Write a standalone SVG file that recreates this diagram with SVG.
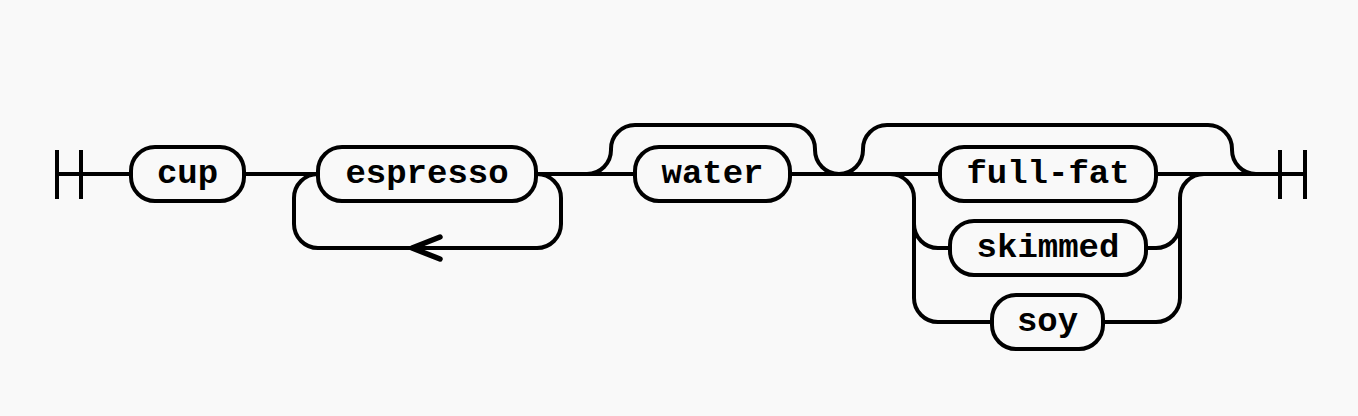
<svg xmlns="http://www.w3.org/2000/svg" width="1358" height="416" viewBox="0 0 1358 416">
<style>
.bg{fill:#f9f9f9}
.ln{fill:none;stroke:#000;stroke-width:4;stroke-linecap:butt;stroke-linejoin:round}
.box{fill:#f9f9f9;stroke:#000;stroke-width:4}
.lbl{font-family:"Liberation Mono","DejaVu Sans Mono",monospace;font-weight:bold;font-size:34px;fill:#000;text-anchor:middle}
</style>
<rect class="bg" x="0" y="0" width="1358" height="416"/>
<g id="connectors" class="ln">
  <path d="M57,150 L57,199 M81,150 L81,199"/>
  <path d="M57,174 L131,174"/>
  <path d="M244,174 L318,174"/>
  <path d="M318,174 A24,24 0 0 0 294,198 L294,224 A24,24 0 0 0 318,248 L537,248 A24,24 0 0 0 561,224 L561,198 A24,24 0 0 0 537,174"/>
  <path d="M440,237 L412,248 L440,259" stroke-width="5.5" stroke-linecap="round"/>
  <path d="M536,174 L635,174"/>
  <path d="M587,174 A24,24 0 0 0 611,150 L611,149 A24,24 0 0 1 635,125 L791,125 A24,24 0 0 1 815,149 L815,150 A24,24 0 0 0 839,174"/>
  <path d="M790,174 L940,174"/>
  <path d="M839,174 A24,24 0 0 0 863,150 L863,149 A24,24 0 0 1 887,125 L1208,125 A24,24 0 0 1 1232,149 L1232,150 A24,24 0 0 0 1256,174"/>
  <path d="M890,174 A24,24 0 0 1 914,198 L914,298 A24,24 0 0 0 938,322 L992,322"/>
  <path d="M914,224 A24,24 0 0 0 938,248 L950,248"/>
  <path d="M1146,248 L1156,248 A24,24 0 0 0 1180,224"/>
  <path d="M1103,322 L1156,322 A24,24 0 0 0 1180,298 L1180,198 A24,24 0 0 1 1204,174"/>
  <path d="M1156,174 L1305,174"/>
  <path d="M1280,150 L1280,199 M1305,150 L1305,199"/>
</g>
<g id="cup"><rect class="box" x="131" y="147" width="113" height="54" rx="24"/><text class="lbl" x="187.5" y="183">cup</text></g>
<g id="espresso"><rect class="box" x="318" y="147" width="218" height="54" rx="24"/><text class="lbl" x="427" y="183">espresso</text></g>
<g id="water"><rect class="box" x="635" y="147" width="155" height="54" rx="24"/><text class="lbl" x="712.5" y="183">water</text></g>
<g id="full-fat"><rect class="box" x="940" y="147" width="216" height="54" rx="24"/><text class="lbl" x="1048" y="183">full-fat</text></g>
<g id="skimmed"><rect class="box" x="950" y="221" width="196" height="54" rx="24"/><text class="lbl" x="1048" y="257">skimmed</text></g>
<g id="soy"><rect class="box" x="992" y="295" width="111" height="54" rx="24"/><text class="lbl" x="1047.5" y="331">soy</text></g>
</svg>
